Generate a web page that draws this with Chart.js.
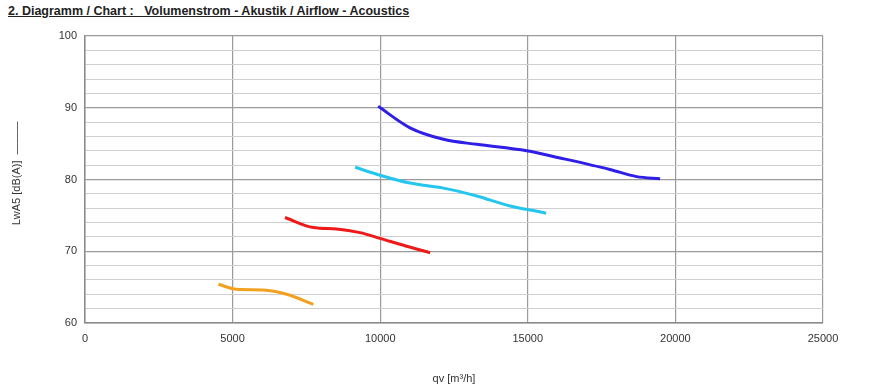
<!DOCTYPE html>
<html>
<head>
<meta charset="utf-8">
<script src="https://cdn.jsdelivr.net/npm/chart.js@4"></script>
<style>
  body { margin: 0; background: #fff; }
  #wrap { position: relative; width: 893px; height: 386px; }
  #title {
    position: absolute; left: 8px; top: 4px;
    font: bold 12.5px "Liberation Sans", Arial, sans-serif;
    color: #222; text-decoration: underline; white-space: pre;
  }
  canvas { position: absolute; left: 0; top: 0; }
</style>
</head>
<body>
<div id="wrap">
  <div id="title">2. Diagramm / Chart :   Volumenstrom - Akustik / Airflow - Acoustics</div>
  <canvas id="chart" width="893" height="386"></canvas>
</div>
<script>
// airflow qv [m³/h] vs. sound power LwA5 [dB(A)]
const blueQ   = [9930, 11010, 12140, 13270, 14960, 16090, 17780, 18690, 19480];
const blueLw  = [90.2, 87.2, 85.6, 84.9, 84.0, 83.0, 81.4, 80.4, 80.1];

const cyanQ   = [9150, 9990, 11010, 12140, 13270, 14400, 15520, 15620];
const cyanLw  = [81.7, 80.6, 79.5, 78.8, 77.7, 76.3, 75.4, 75.3];

const redQ    = [6775, 7735, 8525, 9320, 9990, 10895, 11690];
const redLw   = [74.7, 73.3, 73.1, 72.6, 71.8, 70.7, 69.8];

const orangeQ  = [4520, 5135, 6040, 6830, 7735];
const orangeLw = [65.4, 64.7, 64.6, 64.0, 62.6];

const xTicks = [0, 5000, 10000, 15000, 20000, 25000];
const yLabels = [60, 70, 80, 90, 100];

function pts(xs, ys) {
    return xs.map((x, i) => ({ x: x, y: ys[i] }));
}

function series(xs, ys, color) {
    return {
        data: pts(xs, ys),
        borderColor: color,
        borderWidth: 3,
        pointRadius: 0,
        fill: false,
        cubicInterpolationMode: 'monotone'
    };
}

const font = { family: '"Liberation Sans", Arial, sans-serif', size: 11 };

new Chart(document.getElementById('chart').getContext('2d'), {
    type: 'line',
    data: {
        datasets: [
            series(blueQ, blueLw, '#2f1ee6'),
            series(cyanQ, cyanLw, '#25c6ee'),
            series(redQ, redLw, '#ee1a1a'),
            series(orangeQ, orangeLw, '#f2a020')
        ]
    },
    options: {
        responsive: false,
        animation: false,
        layout: { padding: { top: 36, right: 70, bottom: 0, left: 0 } },
        plugins: { legend: { display: false }, tooltip: { enabled: false } },
        scales: {
            x: {
                type: 'linear',
                min: 0,
                max: 25000,
                afterBuildTicks: (s) => { s.ticks = xTicks.map(v => ({ value: v })); },
                afterFit: (s) => { s.height = 63; },
                ticks: {
                    color: '#333', font: font, padding: 9, maxRotation: 0,
                    callback: (v) => String(v)
                },
                grid: { color: '#9a9a9a', lineWidth: 1.2, drawTicks: false },
                border: { color: '#8a8a8a', width: 1.5 },
                title: {
                    display: true, text: 'qv [m³/h]', color: '#333', font: font,
                    padding: { top: 13, bottom: 0 }
                }
            },
            y: {
                min: 60,
                max: 100,
                ticks: {
                    stepSize: 2,
                    color: '#333',
                    font: font,
                    padding: 8,
                    autoSkip: false,
                    callback: (v) => yLabels.includes(v) ? v : ''
                },
                afterFit: (s) => { s.width = 85; },
                grid: {
                    drawTicks: false,
                    color: (c) => c.tick && c.tick.value % 10 === 0 ? '#9a9a9a' : '#cfcfcf',
                    lineWidth: (c) => c.tick && c.tick.value % 10 === 0 ? 1.2 : 1
                },
                border: { color: '#8a8a8a', width: 1.5 },
                title: {
                    display: true, text: '\u00a0\u00a0\u00a0\u00a0LwA5 [dB(A)]  ———', color: '#333', font: font,
                    padding: { top: 10, bottom: 8 }
                }
            }
        }
    }
});
</script>
</body>
</html>
